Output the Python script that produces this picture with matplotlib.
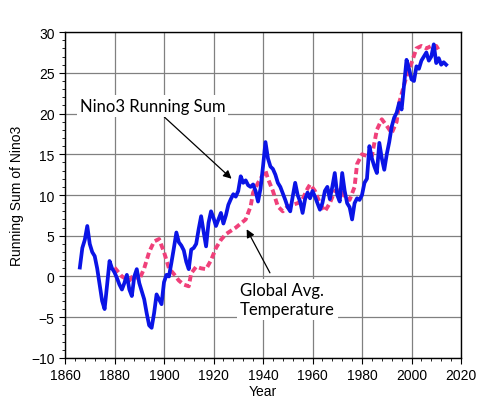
import numpy as np
import matplotlib
matplotlib.use('Agg')
import matplotlib.pyplot as plt
from matplotlib.ticker import MultipleLocator

# Nino3 running sum (annual, estimated from the figure)
nino_years = list(range(1866, 2015))
nino_sum = [
    1.1, 3.5, 4.5, 6.2, 4.0, 3.0, 2.5, 1.0, -1.0, -3.0,          # 1866-1875
    -4.0, -1.0, 1.9, 1.0, 0.5, -0.2, -1.0, -1.6, -0.8, 0.2,      # 1876-1885
    -1.6, -2.4, 0.0, 0.9, -0.8, -1.8, -2.8, -4.5, -6.0, -6.3,    # 1886-1895
    -4.5, -2.2, -2.8, -3.4, -0.7, 0.2, 0.0, 1.7, 3.5, 5.4,       # 1896-1905
    4.2, 3.8, 3.2, 1.8, 0.9, 3.3, 3.5, 4.0, 5.8, 7.4,            # 1906-1915
    5.5, 3.7, 6.6, 8.0, 7.2, 6.2, 7.0, 7.8, 6.5, 7.5,            # 1916-1925
    8.8, 9.5, 10.1, 9.8, 10.5, 12.3, 11.5, 11.8, 11.2, 11.0,     # 1926-1935
    11.3, 10.5, 9.2, 10.8, 13.5, 16.5, 14.5, 13.5, 13.2, 12.5,   # 1936-1945
    11.5, 11.0, 10.2, 9.4, 8.5, 8.0, 9.8, 11.5, 10.0, 9.2,       # 1946-1955
    7.8, 9.5, 10.3, 9.6, 10.5, 9.8, 9.0, 8.2, 9.0, 10.5,         # 1956-1965
    11.0, 9.5, 11.0, 12.7, 10.0, 9.2, 12.7, 10.5, 9.0, 8.5,      # 1966-1975
    7.0, 9.0, 9.6, 9.4, 10.0, 11.5, 12.0, 16.0, 14.5, 13.5,      # 1976-1985
    12.7, 16.4, 14.5, 13.1, 15.0, 16.5, 18.4, 19.5, 20.1, 21.3,  # 1986-1995
    20.5, 23.5, 26.6, 25.5, 24.2, 24.0, 25.8, 25.5, 26.5, 27.0,  # 1996-2005
    27.5, 26.5, 27.0, 28.5, 26.2, 26.8, 26.0, 26.3, 26.0,        # 2006-2014
]

# global average temperature (scaled)
temp_years = [1880, 1883, 1886, 1888, 1890, 1892, 1894, 1896, 1898, 1900,
              1902, 1904, 1906, 1908, 1910, 1911, 1913, 1915, 1917, 1919,
              1921, 1923, 1925, 1927, 1929, 1931, 1933, 1935, 1936, 1938,
              1940, 1941, 1942, 1944, 1946, 1948, 1950, 1952, 1954, 1956,
              1958, 1959, 1961, 1963, 1965, 1967, 1969, 1971, 1973, 1975,
              1977, 1978, 1980, 1982, 1984, 1986, 1988, 1990, 1992, 1994,
              1995, 1997, 1998, 2000, 2002, 2004, 2006, 2008, 2010, 2011]
temp_vals = [1.1, 0.0, -0.5, 0.3, -0.4, 1.0, 3.0, 4.3, 4.6, 3.0,
             1.0, 0.3, -0.5, -1.0, -1.2, 0.4, 1.2, 1.0, 0.9, 2.0,
             3.5, 4.5, 5.2, 5.6, 6.0, 6.5, 7.0, 8.6, 10.3, 11.5,
             12.5, 13.0, 12.0, 10.5, 8.6, 8.0, 8.6, 8.8, 9.0, 9.5,
             10.8, 11.3, 10.5, 9.0, 8.0, 9.0, 10.5, 10.7, 9.8, 9.4,
             11.0, 13.8, 15.0, 14.8, 14.8, 18.0, 19.3, 18.5, 17.6, 19.0,
             21.3, 23.5, 24.6, 26.2, 28.0, 28.3, 28.0, 28.3, 28.3, 27.8]

plt.rcParams['font.family'] = ['Liberation Sans', 'DejaVu Sans']

fig = plt.figure(figsize=(5.0, 4.14), dpi=100)
ax = fig.add_axes([0.13, 0.133, 0.792, 0.787])

ax.plot(temp_years, temp_vals, color='#F0407A', linewidth=2.8,
        linestyle=(0, (1.6, 0.9)), zorder=3)
ax.plot(nino_years, nino_sum, color='#0A14E6', linewidth=2.7, zorder=4)

ax.set_xlim(1860, 2020)
ax.set_ylim(-10, 30)
ax.xaxis.set_major_locator(MultipleLocator(20))
ax.xaxis.set_minor_locator(MultipleLocator(4))
ax.yaxis.set_major_locator(MultipleLocator(5))
ax.yaxis.set_minor_locator(MultipleLocator(1))
ax.grid(True, which='major', color='#808080', linewidth=0.9)
ax.set_axisbelow(True)
ax.tick_params(which='major', direction='out', length=4, width=0.8, labelsize=10)
ax.tick_params(which='minor', direction='out', length=2, width=0.6)
for sp in ax.spines.values():
    sp.set_linewidth(1.0)

ax.set_xlabel('Year', fontsize=10, labelpad=1)
ax.set_ylabel('Running Sum of Nino3', fontsize=10, labelpad=5)

txt_font = ['Lato', 'DejaVu Sans']
ax.annotate('Nino3 Running Sum', xy=(1927.3, 12.0), xytext=(1895.4, 20.9),
            ha='center', va='center', fontsize=12, family=txt_font,
            bbox=dict(facecolor='white', edgecolor='none', pad=2),
            arrowprops=dict(arrowstyle='-|>', color='black', lw=0.9,
                            mutation_scale=12, shrinkA=0, shrinkB=0),
            zorder=5)
ax.annotate('Global Avg.\nTemperature', xy=(1933.4, 5.8), xytext=(1930.7, -2.8),
            ha='left', va='center', fontsize=12, family=txt_font,
            linespacing=1.25,
            bbox=dict(facecolor='white', edgecolor='none', pad=2),
            zorder=5)
ax.annotate('', xy=(1933.4, 5.8), xytext=(1942.8, 0.45),
            arrowprops=dict(arrowstyle='-|>', color='black', lw=0.9,
                            mutation_scale=12, shrinkA=0, shrinkB=0),
            zorder=5)

fig.savefig('out.png', dpi=100)
